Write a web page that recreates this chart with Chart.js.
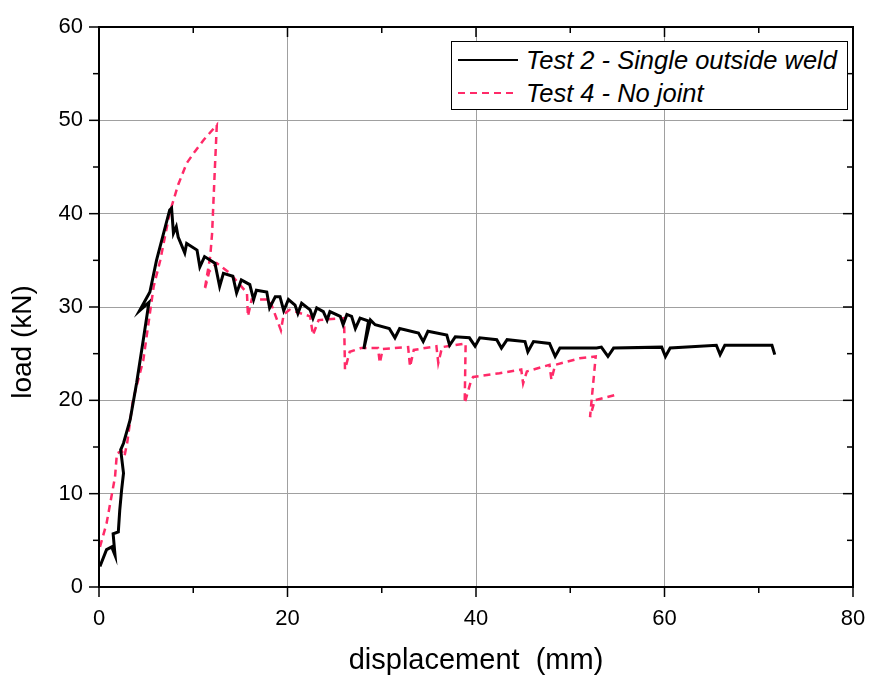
<!DOCTYPE html>
<html lang="en">
<head>
<meta charset="UTF-8">
<title>Load vs displacement</title>
<script src="https://cdn.jsdelivr.net/npm/chart.js"></script>
<style>
  body { margin: 0; background: #fff; }
  #wrap { position: relative; width: 871px; height: 675px; }
  #legend {
    position: absolute; left: 451px; top: 41px; width: 397px; height: 69px;
    box-sizing: border-box; border: 1.5px solid #000; background: #fff;
    font-family: 'Liberation Sans', Arial, sans-serif; font-style: italic; font-size: 25.5px; color: #000;
  }
  .row { position: absolute; left: 0; height: 30px; display: flex; align-items: center; white-space: nowrap; }
  .sample { width: 60px; height: 2.5px; margin-left: 6px; margin-right: 8px; }
  .solid { background: #000; }
  .dashed { background: repeating-linear-gradient(to right, #ff2a68 0 7px, transparent 7px 12px); }
</style>
</head>
<body>
<div id="wrap">
  <canvas id="load-chart"></canvas>
  <div id="legend">
    <div class="row" style="top:3px"><span class="sample solid"></span>Test 2 - Single outside weld</div>
    <div class="row" style="top:36px"><span class="sample dashed"></span>Test 4 - No joint</div>
  </div>
</div>
<script>
  // Test 2 - Single outside weld (displacement mm, load kN)
  var test2X = [0.1, 0.8, 1.35, 1.7, 1.5, 2.05, 2.2, 2.4, 2.6, 2.3, 2.6, 3.3, 4.0, 4.7, 5.3, 4.3, 5.4, 6.1, 7.5, 7.7,
                7.9, 8.2, 8.4, 9.1, 9.3, 10.4, 10.7, 11.2, 12.3, 12.8, 13.2, 14.2, 14.6, 15.1, 16.0, 16.4, 16.7, 17.8, 18.1, 18.7,
                19.2, 19.6, 20.1, 20.8, 21.1, 21.5, 22.4, 22.7, 23.1, 23.8, 24.2, 24.5, 25.6, 25.9, 26.3, 26.8, 27.2, 27.7, 28.6, 28.1,
                28.8, 29.3, 30.8, 31.4, 31.9, 33.9, 34.4, 34.9, 36.9, 37.2, 37.8, 39.3, 39.9, 40.4, 42.2, 42.7, 43.3, 45.2, 45.5, 46.1,
                47.8, 48.4, 48.9, 52.8, 53.3, 54.0, 54.6, 59.7, 60.1, 60.6, 65.5, 65.9, 66.4, 71.4, 71.7];
  var test2Y = [2.2, 4.0, 4.3, 3.4, 5.7, 5.9, 8.2, 10.4, 12.2, 14.7, 15.4, 17.9, 21.9, 26.5, 30.5, 29.6, 31.6, 35.0, 40.4, 40.6,
                37.9, 38.6, 37.5, 35.8, 36.8, 36.1, 34.3, 35.4, 34.7, 32.2, 33.6, 33.3, 31.5, 32.9, 32.4, 30.8, 31.8, 31.6, 29.9, 31.1,
                31.1, 29.6, 30.8, 30.2, 29.3, 30.4, 29.7, 28.8, 29.9, 29.5, 28.6, 29.5, 29.0, 28.1, 29.2, 29.0, 27.7, 28.8, 28.5, 25.5,
                28.6, 28.1, 27.7, 26.7, 27.7, 27.2, 26.3, 27.4, 27.0, 25.9, 26.8, 26.7, 25.8, 26.7, 26.5, 25.6, 26.5, 26.3, 25.2, 26.3,
                26.1, 24.7, 25.6, 25.6, 25.7, 24.7, 25.6, 25.7, 24.7, 25.6, 25.9, 24.9, 25.9, 25.9, 24.9];

  // Test 4 - No joint
  var test4X = [0.1, 0.8, 1.7, 1.9, 2.4, 2.7, 3.0, 3.6, 4.7, 5.8, 6.5, 7.5, 8.4, 9.3, 10.2, 11.1, 12.5, 12.3, 12.0, 11.8,
                11.2, 11.7, 12.5, 13.9, 15.7, 15.8, 16.2, 18.1, 19.3, 19.6, 20.2, 22.4, 22.7, 23.3, 26.0, 26.1, 26.6, 27.8, 29.6, 29.8,
                30.1, 32.8, 33.0, 33.4, 35.8, 36.0, 36.4, 38.9, 38.8, 39.5, 39.7, 42.5, 44.8, 45.0, 45.4, 47.8, 48.0, 48.4, 51.0, 52.7,
                52.1, 52.6, 54.9];
  var test4Y = [4.3, 6.8, 11.8, 14.3, 14.6, 14.0, 15.5, 20.0, 24.3, 32.2, 35.0, 40.1, 43.1, 45.4, 46.7, 47.9, 49.5, 45.0, 37.9, 35.4,
                31.8, 33.8, 34.7, 33.6, 31.5, 29.0, 30.8, 30.8, 27.5, 29.2, 29.7, 29.0, 27.0, 28.6, 28.8, 23.3, 25.2, 25.6, 25.6, 24.0,
                25.5, 25.7, 23.6, 25.4, 25.8, 24.0, 25.7, 26.1, 19.7, 22.2, 22.5, 22.9, 23.3, 21.8, 23.1, 23.8, 22.2, 23.8, 24.5, 24.7,
                18.2, 20.0, 20.6];

  var xTicks = [0, 20, 40, 60, 80];
  var xMinorTicks = [10, 30, 50, 70];
  var yTicks = [0, 10, 20, 30, 40, 50, 60];
  var yMinorTicks = [5, 15, 25, 35, 45, 55];

  function toPoints(xs, ys) {
    return xs.map(function(x, i) { return {x: x, y: ys[i]}; });
  }

  var fontFamily = "'Liberation Sans', Arial, sans-serif";

  // frame round the plot with ticks: outward on left/bottom, inward on top/right
  var frameTicks = {
    id: 'frameTicks',
    afterDraw: function(chart) {
      var ctx = chart.ctx, a = chart.chartArea, sx = chart.scales.x, sy = chart.scales.y;
      ctx.save();
      ctx.strokeStyle = '#000';
      ctx.lineWidth = 1.5;
      function seg(x1, y1, x2, y2) { ctx.beginPath(); ctx.moveTo(x1, y1); ctx.lineTo(x2, y2); ctx.stroke(); }
      xTicks.concat(xMinorTicks).forEach(function(v) {
        var len = xTicks.indexOf(v) >= 0 ? 10 : 6;
        var px = sx.getPixelForValue(v);
        seg(px, a.bottom, px, a.bottom + len);
        seg(px, a.top, px, a.top + len);
      });
      yTicks.concat(yMinorTicks).forEach(function(v) {
        var len = yTicks.indexOf(v) >= 0 ? 10 : 6;
        var py = sy.getPixelForValue(v);
        seg(a.left - len, py, a.left, py);
        seg(a.right - len, py, a.right, py);
      });
      ctx.lineWidth = 2;
      ctx.strokeRect(a.left, a.top, a.right - a.left, a.bottom - a.top);
      ctx.restore();
    }
  };

  var ctx = document.getElementById('load-chart').getContext('2d');
  var loadChart = new Chart(ctx, {
    type: 'scatter',
    data: {
      datasets: [{
        label: 'Test 2 - Single outside weld',
        data: toPoints(test2X, test2Y),
        showLine: true,
        borderColor: '#000',
        borderWidth: 3,
        pointRadius: 0,
        tension: 0
      }, {
        label: 'Test 4 - No joint',
        data: toPoints(test4X, test4Y),
        showLine: true,
        borderColor: '#ff2a68',
        borderWidth: 2.5,
        borderDash: [7, 5],
        pointRadius: 0,
        tension: 0
      }]
    },
    options: {
      responsive: true,
      maintainAspectRatio: false,
      animation: false,
      layout: { padding: { top: 27, right: 18, left: 0, bottom: 0 } },
      plugins: { legend: { display: false }, tooltip: { enabled: false } },
      scales: {
        x: {
          type: 'linear', min: 0, max: 80,
          afterBuildTicks: function(s) { s.ticks = xTicks.map(function(v) { return {value: v}; }); },
          afterFit: function(s) { s.height = 88; s.paddingLeft = 0; s.paddingRight = 0; },
          ticks: { color: '#000', padding: 19, maxRotation: 0, font: { family: fontFamily, size: 22 } },
          grid: { color: '#a0a0a0', lineWidth: 1, drawTicks: false },
          border: { display: false },
          title: {
            display: true, text: 'displacement  (mm)', color: '#000',
            font: { family: fontFamily, size: 29, lineHeight: 1 }, padding: { top: 0, bottom: 0 }
          }
        },
        y: {
          type: 'linear', min: 0, max: 60,
          afterBuildTicks: function(s) { s.ticks = yTicks.map(function(v) { return {value: v}; }); },
          afterFit: function(s) { s.width = 99; s.paddingTop = 0; s.paddingBottom = 0; },
          ticks: { color: '#000', padding: 16, font: { family: fontFamily, size: 22 } },
          grid: { color: '#a0a0a0', lineWidth: 1, drawTicks: false },
          border: { display: false },
          title: {
            display: true, text: 'load (kN)         ', color: '#000',
            font: { family: fontFamily, size: 28, lineHeight: 1 }, padding: { top: 9, bottom: 0 }
          }
        }
      }
    },
    plugins: [frameTicks]
  });
</script>
</body>
</html>
